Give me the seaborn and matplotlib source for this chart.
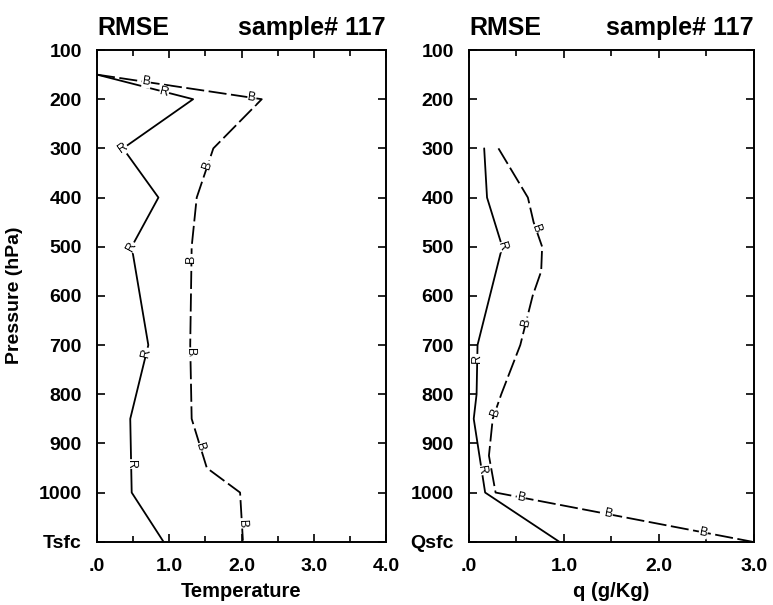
import numpy as np
import pandas as pd
import matplotlib
matplotlib.use("Agg")
import matplotlib.pyplot as plt
import seaborn as sns

# pressure levels (hPa); the surface value is drawn at 1100
t_r_levels = [150, 200, 300, 400, 500, 700, 850, 1000, 1100]
t_r_rmse = [0.0, 1.33, 0.36, 0.85, 0.48, 0.71, 0.46, 0.48, 0.92]
t_b_levels = [150, 200, 300, 400, 500, 700, 850, 950, 1000, 1100]
t_b_rmse = [0.0, 2.28, 1.61, 1.38, 1.31, 1.29, 1.31, 1.52, 1.98, 2.02]

q_r_levels = [300, 400, 500, 700, 800, 850, 1000, 1100]
q_r_rmse = [0.16, 0.19, 0.35, 0.09, 0.08, 0.05, 0.17, 0.95]
q_b_levels = [300, 400, 450, 500, 550, 600, 700, 800, 850, 925, 1000, 1100]
q_b_rmse = [0.31, 0.62, 0.68, 0.77, 0.76, 0.67, 0.54, 0.34, 0.25, 0.21, 0.28, 2.98]

# where the curve letters sit along each line
t_r_labels = [185, 300, 500, 715, 942]
t_b_labels = [165, 197, 334, 524, 714, 908, 1064]
q_r_labels = [500, 728, 955]
q_b_labels = [463, 653, 836, 1010, 1044, 1081]

y_ticks = [100, 200, 300, 400, 500, 600, 700, 800, 900, 1000, 1100]
t_ytick_labels = ["100", "200", "300", "400", "500", "600", "700", "800", "900", "1000", "Tsfc"]
q_ytick_labels = ["100", "200", "300", "400", "500", "600", "700", "800", "900", "1000", "Qsfc"]
t_xticks = [0, 1, 2, 3, 4]
t_xtick_labels = [".0", "1.0", "2.0", "3.0", "4.0"]
q_xticks = [0, 1, 2, 3]
q_xtick_labels = [".0", "1.0", "2.0", "3.0"]

sns.set_theme(style="ticks")
plt.rcParams["font.family"] = ["Liberation Sans", "DejaVu Sans"]
plt.rcParams["font.weight"] = "bold"
for key in ["text.color", "axes.labelcolor", "xtick.color", "ytick.color", "axes.edgecolor"]:
    plt.rcParams[key] = "black"


def make_frame(r_lev, r_val, b_lev, b_val):
    df_r = pd.DataFrame({"p": r_lev, "rmse": r_val, "series": "R"})
    df_b = pd.DataFrame({"p": b_lev, "rmse": b_val, "series": "B"})
    return pd.concat([df_r, df_b], ignore_index=True)


def letter_labels(ax, lev, val, where, letter):
    lev = np.asarray(lev, dtype=float)
    val = np.asarray(val, dtype=float)
    for p in where:
        x = np.interp(p, lev, val)
        # direction of the line at this point, in screen space
        i = np.clip(np.searchsorted(lev, p), 1, len(lev) - 1)
        a = ax.transData.transform((val[i - 1], lev[i - 1]))
        b = ax.transData.transform((val[i], lev[i]))
        ang = np.degrees(np.arctan2(b[1] - a[1], b[0] - a[0]))
        if ang < -90:
            ang += 180
        elif ang > 90:
            ang -= 180
        ax.text(x, p, letter, fontsize=9, fontweight="normal", color="black",
                ha="center", va="center", rotation=ang, rotation_mode="anchor",
                bbox=dict(fc="white", ec="none", pad=0.3), zorder=5, clip_on=True)


def draw_panel(ax, df, xmax, xticks, xtick_labels, ytick_labels, xlabel):
    sns.lineplot(data=df, x="rmse", y="p", style="series", sort=False, estimator=None,
                 dashes={"R": "", "B": (10, 2.5)}, color="black", linewidth=1.3,
                 legend=False, ax=ax)
    ax.set_xlim(0, xmax)
    ax.set_ylim(1100, 100)
    ax.set_xticks(xticks)
    ax.set_xticklabels(xtick_labels)
    ax.set_xticks(np.arange(0.5, xmax, 1.0), minor=True)
    ax.set_yticks(y_ticks)
    ax.set_yticklabels(ytick_labels)
    ax.tick_params(axis="both", which="both", direction="in", top=True, right=True,
                   color="black", width=1.2, labelsize=14, labelcolor="black")
    ax.tick_params(axis="x", which="major", length=6, pad=12)
    ax.tick_params(axis="x", which="minor", length=4)
    ax.tick_params(axis="y", which="major", length=6, pad=11)
    for lab in ax.get_xticklabels() + ax.get_yticklabels():
        lab.set_fontweight("bold")
    for s in ax.spines.values():
        s.set_color("black")
        s.set_linewidth(1.4)
    ax.set_xlabel(xlabel, fontsize=14.5, fontweight="bold", labelpad=5)
    ax.set_ylabel("")
    ax.set_title("RMSE", loc="left", fontsize=18, fontweight="bold", pad=11)
    ax.set_title("sample# 117", loc="right", fontsize=18, fontweight="bold", pad=11)


fig = plt.figure(figsize=(7.73, 6.05), dpi=100)
ax_t = fig.add_axes([0.1255, 0.1046, 0.3739, 0.8127])
ax_q = fig.add_axes([0.6067, 0.1046, 0.3687, 0.8127])

draw_panel(ax_t, make_frame(t_r_levels, t_r_rmse, t_b_levels, t_b_rmse),
           4.0, t_xticks, t_xtick_labels, t_ytick_labels, "Temperature")
draw_panel(ax_q, make_frame(q_r_levels, q_r_rmse, q_b_levels, q_b_rmse),
           3.0, q_xticks, q_xtick_labels, q_ytick_labels, "q (g/Kg)")

letter_labels(ax_t, t_r_levels, t_r_rmse, t_r_labels, "R")
letter_labels(ax_t, t_b_levels, t_b_rmse, t_b_labels, "B")
letter_labels(ax_q, q_r_levels, q_r_rmse, q_r_labels, "R")
letter_labels(ax_q, q_b_levels, q_b_rmse, q_b_labels, "B")

fig.text(15 / 773, 1 - 295 / 605, "Pressure (hPa)", rotation=90, ha="center", va="center",
         fontsize=14, fontweight="bold")

fig.savefig("out.png", dpi=100, facecolor="white")
